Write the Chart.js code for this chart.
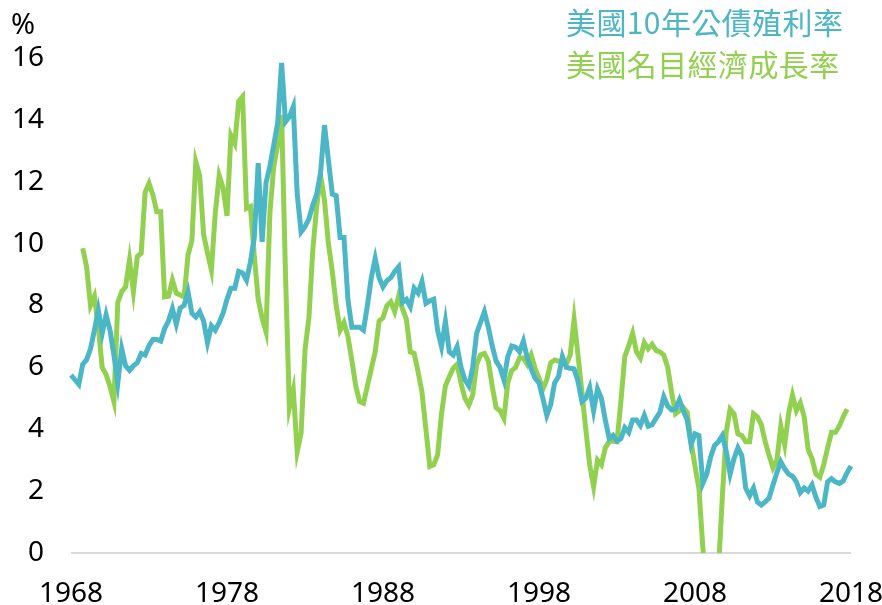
<!DOCTYPE html>
<html>
<head>
<meta charset="utf-8">
<script src="https://cdn.jsdelivr.net/npm/chart.js@4.4.1/dist/chart.umd.min.js"></script>
<style>
  html, body { margin: 0; padding: 0; background: #fff; }
  #wrap { position: relative; width: 882px; height: 605px; }
  #chart { position: absolute; left: 0; top: 0; }
  .legend { position: absolute; left: 566px; font-family: "Noto Sans CJK TC", "Noto Sans CJK SC", sans-serif; font-size: 30px; letter-spacing: 0.4px; line-height: 1; white-space: nowrap; }
  #unit { position: absolute; left: 11px; top: 3px; font-family: "Noto Sans", sans-serif; font-size: 29px; color: #000; }
</style>
</head>
<body>
<div id="wrap">
  <canvas id="chart" width="882" height="605"></canvas>
  <div id="unit">%</div>
  <div class="legend" style="top:6px;color:#4bb6c6;">美國10年公債殖利率</div>
  <div class="legend" style="top:48px;color:#92d050;">美國名目經濟成長率</div>
</div>
<script>
// quarterly data, 1968Q1 .. 2018Q1
const startYear = 1968;
const yearTicks = [1968, 1978, 1988, 1998, 2008, 2018];
const yTicks = [0, 2, 4, 6, 8, 10, 12, 14, 16];

// 美國10年公債殖利率 (%)
const bondYield = [
    5.75, 5.6, 5.45, 6.1,      // 1968
    6.25, 6.6, 7.2, 7.85,      // 1969
    7.1, 7.7, 7.2, 6.4,        // 1970
    5.5, 6.6, 6.05, 5.9,       // 1971
    6.05, 6.15, 6.45, 6.4,     // 1972
    6.7, 6.9, 6.9, 6.85,       // 1973
    7.25, 7.5, 7.9, 7.4,       // 1974
    7.92, 8.0, 8.44, 7.75,     // 1975
    7.63, 7.8, 7.5, 6.8,       // 1976
    7.35, 7.2, 7.45, 7.75,     // 1977
    8.2, 8.56, 8.56, 9.1,      // 1978
    9.05, 8.82, 9.4, 10.2,     // 1979
    12.6, 10.06, 11.96, 12.5,  // 1980
    13.2, 13.9, 15.84, 13.94,  // 1981
    14.1, 14.43, 11.6, 10.38,  // 1982
    10.55, 10.8, 11.25, 11.6,  // 1983
    12.3, 13.83, 12.7, 11.6,   // 1984
    11.55, 10.2, 10.2, 8.2,    // 1985
    7.3, 7.3, 7.3, 7.2,        // 1986
    8.0, 8.9, 9.52, 8.9,       // 1987
    8.6, 8.8, 8.9, 9.1,        // 1988
    9.25, 8.1, 8.2, 7.96,      // 1989
    8.56, 8.4, 8.77, 8.07,     // 1990
    8.15, 8.2, 7.2, 6.67,      // 1991
    7.48, 6.5, 6.4, 6.67,      // 1992
    6.0, 5.6, 5.4, 6.0,        // 1993
    7.1, 7.45, 7.8, 7.3,       // 1994
    6.7, 6.2, 6.0, 5.6,        // 1995
    6.35, 6.69, 6.65, 6.5,     // 1996
    6.85, 6.3, 5.95, 5.65,     // 1997
    5.5, 5.0, 4.45, 4.8,       // 1998
    5.5, 5.7, 6.35, 6.0,       // 1999
    5.97, 5.95, 5.55, 4.9,     // 2000
    5.0, 5.35, 4.6, 5.3,       // 2001
    5.0, 4.3, 3.7, 3.8,        // 2002
    3.62, 3.7, 4.05, 3.9,      // 2003
    4.3, 4.3, 4.12, 4.45,      // 2004
    4.1, 4.15, 4.35, 4.55,     // 2005
    5.05, 4.75, 4.62, 4.65,    // 2006
    4.95, 4.6, 4.3, 3.5,       // 2007
    3.85, 3.8, 2.25, 2.55,     // 2008
    3.1, 3.47, 3.6, 3.8,       // 2009
    3.3, 2.55, 3.05, 3.4,      // 2010
    3.15, 2.1, 1.85, 2.1,      // 2011
    1.65, 1.55, 1.65, 1.78,    // 2012
    2.2, 2.6, 2.95, 2.72,      // 2013
    2.55, 2.48, 2.3, 1.95,     // 2014
    2.1, 2.0, 2.2, 1.8,        // 2015
    1.5, 1.55, 2.3, 2.4,       // 2016
    2.3, 2.25, 2.33, 2.6,      // 2017
    2.81                       // 2018
];

// 美國名目經濟成長率 (%)
const nominalGdp = [
    null, null, null, 9.85,    // 1968
    9.25, 8.0, 8.3, 7.3,       // 1969
    6.0, 5.77, 5.38, 4.9,      // 1970
    8.1, 8.45, 8.6, 9.47,      // 1971
    8.45, 9.58, 9.69, 11.65,   // 1972
    11.95, 11.57, 11.03, 11.03,// 1973
    8.28, 8.3, 8.82, 8.4,      // 1974
    8.34, 8.28, 9.63, 10.1,    // 1975
    12.65, 12.2, 10.3, 9.7,    // 1976
    9.15, 11.0, 12.2, 11.8,    // 1977
    10.9, 13.5, 13.24, 14.6,   // 1978
    14.75, 11.14, 11.2, 9.6,   // 1979
    8.2, 7.6, 7.15, 11.0,      // 1980
    12.5, 13.2, 14.16, 9.0,    // 1981
    4.7, 5.27, 3.27, 3.87,     // 1982
    6.56, 7.6, 9.8, 11.2,      // 1983
    12.2, 11.4, 10.0, 9.1,     // 1984
    8.0, 7.2, 7.45, 7.0,       // 1985
    6.24, 5.4, 4.9, 4.84,      // 1986
    5.4, 5.95, 6.5, 7.5,       // 1987
    7.6, 8.0, 8.12, 7.8,       // 1988
    8.3, 7.9, 7.55, 6.5,       // 1989
    6.45, 5.85, 5.2, 4.0,      // 1990
    2.8, 2.85, 3.17, 4.5,      // 1991
    5.4, 5.7, 5.97, 6.1,       // 1992
    5.5, 5.0, 4.78, 5.1,       // 1993
    6.1, 6.4, 6.45, 6.2,       // 1994
    5.4, 4.7, 4.6, 4.35,       // 1995
    5.5, 5.9, 6.0, 6.3,        // 1996
    6.3, 6.1, 6.4, 5.97,       // 1997
    5.65, 5.3, 5.6, 6.15,      // 1998
    6.24, 6.2, 6.2, 6.1,       // 1999
    6.4, 7.55, 6.4, 5.2,       // 2000
    4.0, 2.85, 2.15, 3.0,      // 2001
    2.85, 3.4, 3.6, 3.62,      // 2002
    3.6, 4.9, 6.35, 6.7,       // 2003
    7.1, 6.5, 6.3, 6.8,        // 2004
    6.6, 6.75, 6.55, 6.5,      // 2005
    6.4, 6.0, 5.2, 4.5,        // 2006
    4.6, 4.7, 4.55, 3.6,       // 2007
    2.8, 2.1, 0.2, -1.5,       // 2008
    -3.2, -2.5, -0.6, 1.8,     // 2009
    3.9, 4.65, 4.5, 3.85,      // 2010
    3.8, 3.6, 3.6, 4.5,        // 2011
    4.4, 4.15, 3.6, 3.15,      // 2012
    2.75, 3.0, 4.1, 3.5,       // 2013
    4.5, 5.1, 4.6, 4.85,       // 2014
    4.4, 3.35, 3.05, 2.55,     // 2015
    2.45, 2.85, 3.4, 3.9,      // 2016
    3.9, 4.1, 4.4, 4.65,       // 2017
    null                       // 2018
];

const quarters = bondYield.map((v, i) => startYear + i / 4);

function toPoints(values) {
    return values.map((v, i) => ({ x: quarters[i], y: v }));
}

const ctx = document.getElementById('chart').getContext('2d');
const tickFont = '"Noto Sans", sans-serif';
const lineClip = { left: 5, top: 5, right: 5, bottom: 0 };

const chart = new Chart(ctx, {
    type: 'line',
    data: {
        datasets: [{
            label: '美國10年公債殖利率',
            data: toPoints(bondYield),
            borderColor: '#4bb6c6',
            borderWidth: 5,
            pointRadius: 0,
            tension: 0,
            clip: lineClip
        }, {
            label: '美國名目經濟成長率',
            data: toPoints(nominalGdp),
            borderColor: '#92d050',
            borderWidth: 5,
            pointRadius: 0,
            tension: 0,
            clip: lineClip
        }]
    },
    options: {
        responsive: false,
        animation: false,
        layout: { padding: { left: 0, top: 58, right: 31, bottom: 0 } },
        plugins: {
            legend: { display: false },
            tooltip: { enabled: false }
        },
        scales: {
            x: {
                type: 'linear',
                min: yearTicks[0],
                max: yearTicks[yearTicks.length - 1],
                afterBuildTicks: (scale) => { scale.ticks = yearTicks.map(v => ({ value: v })); },
                afterFit: (scale) => {
                    scale.height = 52;
                    scale.paddingLeft = 0;
                    scale.paddingRight = 0;
                },
                grid: { display: false, drawTicks: false },
                border: { display: false },
                ticks: {
                    padding: 24,
                    color: '#000',
                    font: { family: tickFont, size: 28 },
                    maxRotation: 0,
                    callback: (v) => String(v)
                }
            },
            y: {
                min: 0,
                max: 16,
                afterBuildTicks: (scale) => { scale.ticks = yTicks.map(v => ({ value: v })); },
                afterFit: (scale) => {
                    scale.width = 71;
                    scale.paddingTop = 0;
                    scale.paddingBottom = 0;
                },
                grid: {
                    drawTicks: false,
                    lineWidth: 2,
                    color: (c) => c.tick && c.tick.value === 0 ? '#d9d9d9' : 'rgba(0,0,0,0)'
                },
                border: { display: false },
                ticks: {
                    padding: 27,
                    color: '#000',
                    font: { family: tickFont, size: 28 }
                }
            }
        }
    }
});
</script>
</body>
</html>
